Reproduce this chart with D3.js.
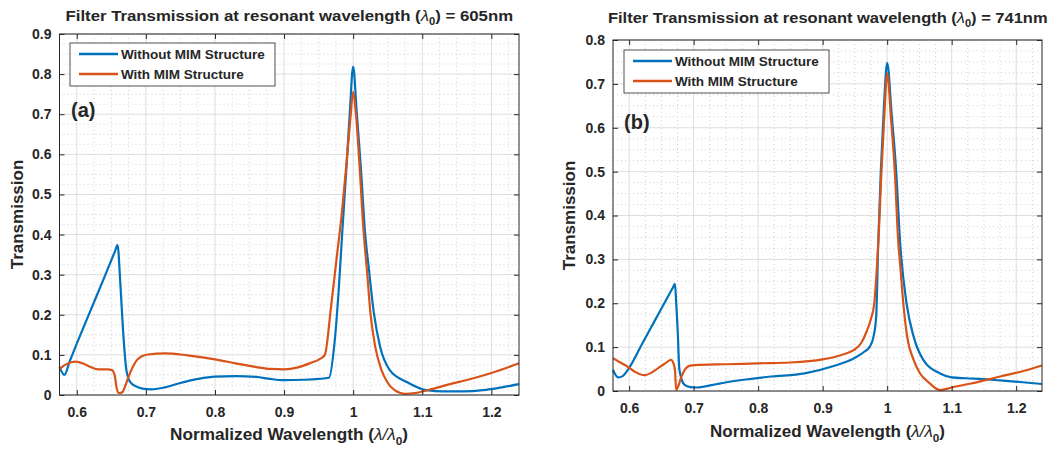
<!DOCTYPE html>
<html>
<head>
<meta charset="utf-8">
<script src="https://cdn.jsdelivr.net/npm/d3@7"></script>
<style>
body { margin: 0; background: #fff; }
svg text { font-family: "Liberation Sans", Arial, sans-serif; font-weight: bold; fill: #262626; }
</style>
</head>
<body>
<svg id="chart" width="1060" height="449"></svg>
<script>
// ---- data ----
var seriesNames = ['Without MIM Structure', 'With MIM Structure'];
var xTicks = [0.6, 0.7, 0.8, 0.9, 1, 1.1, 1.2];
var yTicksA = [0, 0.1, 0.2, 0.3, 0.4, 0.5, 0.6, 0.7, 0.8, 0.9];
var yTicksB = [0, 0.1, 0.2, 0.3, 0.4, 0.5, 0.6, 0.7, 0.8];

// panel (a), lambda0 = 605nm
var wlA_without = [0.575, 0.582, 0.590, 0.600, 0.620, 0.640, 0.655, 0.659, 0.663, 0.667, 0.672, 0.677, 0.685, 0.695, 0.708, 0.725, 0.750, 0.775, 0.800, 0.830, 0.860, 0.880, 0.900, 0.930, 0.950, 0.965, 0.973, 0.979, 0.984, 0.990, 0.995, 1.000, 1.005, 1.011, 1.017, 1.023, 1.030, 1.039, 1.053, 1.077, 1.106, 1.130, 1.160, 1.188, 1.215, 1.240];
var tA_without  = [0.070, 0.050, 0.085, 0.128, 0.211, 0.294, 0.357, 0.374, 0.280, 0.160, 0.060, 0.033, 0.022, 0.016, 0.014, 0.018, 0.030, 0.040, 0.046, 0.047, 0.045, 0.040, 0.037, 0.038, 0.040, 0.043, 0.130, 0.260, 0.400, 0.560, 0.700, 0.819, 0.710, 0.570, 0.410, 0.310, 0.204, 0.120, 0.062, 0.033, 0.012, 0.009, 0.009, 0.012, 0.019, 0.027];
var wlA_with = [0.575, 0.585, 0.598, 0.610, 0.620, 0.631, 0.645, 0.651, 0.655, 0.658, 0.661, 0.666, 0.670, 0.675, 0.687, 0.695, 0.703, 0.728, 0.760, 0.800, 0.830, 0.858, 0.880, 0.900, 0.920, 0.937, 0.952, 0.959, 0.968, 0.976, 0.984, 0.991, 0.996, 1.000, 1.004, 1.009, 1.015, 1.020, 1.025, 1.032, 1.041, 1.049, 1.060, 1.075, 1.090, 1.110, 1.140, 1.170, 1.200, 1.240];
var tA_with  = [0.065, 0.077, 0.083, 0.078, 0.070, 0.064, 0.064, 0.062, 0.048, 0.015, 0.005, 0.007, 0.022, 0.046, 0.087, 0.097, 0.101, 0.104, 0.099, 0.089, 0.079, 0.070, 0.065, 0.064, 0.069, 0.079, 0.090, 0.100, 0.220, 0.340, 0.460, 0.590, 0.690, 0.756, 0.700, 0.578, 0.410, 0.310, 0.204, 0.120, 0.062, 0.033, 0.012, 0.003, 0.005, 0.013, 0.027, 0.040, 0.055, 0.079];

// panel (b), lambda0 = 741nm
var wlB_without = [0.575, 0.583, 0.590, 0.598, 0.620, 0.640, 0.660, 0.668, 0.671, 0.673, 0.675, 0.678, 0.686, 0.695, 0.704, 0.740, 0.774, 0.820, 0.872, 0.917, 0.948, 0.965, 0.973, 0.979, 0.983, 0.986, 0.990, 0.995, 1.000, 1.007, 1.014, 1.020, 1.030, 1.041, 1.056, 1.082, 1.100, 1.123, 1.150, 1.175, 1.210, 1.240];
var tB_without  = [0.048, 0.031, 0.034, 0.048, 0.107, 0.161, 0.215, 0.236, 0.244, 0.200, 0.147, 0.048, 0.014, 0.009, 0.008, 0.017, 0.025, 0.033, 0.040, 0.057, 0.074, 0.090, 0.101, 0.125, 0.170, 0.330, 0.496, 0.650, 0.748, 0.630, 0.500, 0.340, 0.200, 0.124, 0.071, 0.040, 0.031, 0.029, 0.027, 0.024, 0.020, 0.016];
var wlB_with = [0.575, 0.585, 0.598, 0.610, 0.624, 0.635, 0.645, 0.655, 0.665, 0.669, 0.671, 0.673, 0.676, 0.681, 0.688, 0.695, 0.702, 0.750, 0.800, 0.850, 0.900, 0.917, 0.935, 0.948, 0.960, 0.968, 0.975, 0.980, 0.984, 0.987, 0.991, 0.996, 1.000, 1.006, 1.012, 1.017, 1.020, 1.025, 1.031, 1.041, 1.051, 1.064, 1.082, 1.100, 1.130, 1.175, 1.210, 1.240];
var tB_with  = [0.075, 0.066, 0.055, 0.043, 0.036, 0.042, 0.052, 0.062, 0.071, 0.062, 0.048, 0.002, 0.010, 0.033, 0.052, 0.058, 0.059, 0.061, 0.063, 0.065, 0.072, 0.077, 0.085, 0.093, 0.110, 0.135, 0.165, 0.200, 0.280, 0.360, 0.496, 0.640, 0.724, 0.620, 0.496, 0.344, 0.290, 0.200, 0.124, 0.071, 0.040, 0.020, 0.002, 0.008, 0.017, 0.033, 0.045, 0.058];

var colors = ['#0072BD', '#D95319'];

var svg = d3.select('#chart');

function zip(xs, ys) {
  return xs.map(function (d, i) { return [d, ys[i]]; });
}

// stretch a text horizontally around cx so it spans the given width
function fitWidth(sel, cx, width) {
  var w = sel.node().getBBox().width;
  sel.attr('transform', 'translate(' + cx + ',0) scale(' + (width / w) + ',1) translate(' + (-cx) + ',0)');
}

function drawPanel(p) {
  var x = d3.scaleLinear().domain([0.575, 1.24]).range([p.left, p.right]);
  var y = d3.scaleLinear().domain([0, p.ymax]).range([p.bottom, p.top]);
  var g = svg.append('g');
  var cx = (p.left + p.right) / 2;

  // minor grid (dotted)
  var xMinor = d3.range(0.575, 1.2401, 0.025).filter(function (v) { return Math.abs(v * 10 - Math.round(v * 10)) > 0.01; });
  var yMinor = d3.range(0.025, p.ymax, 0.025).filter(function (v) { return Math.abs(v * 10 - Math.round(v * 10)) > 0.01; });
  g.selectAll('.xminor').data(xMinor).enter().append('line')
    .attr('x1', x).attr('x2', x).attr('y1', p.top).attr('y2', p.bottom)
    .attr('stroke', '#c4c4c4').attr('stroke-width', 0.8).attr('stroke-dasharray', '1,3');
  g.selectAll('.yminor').data(yMinor).enter().append('line')
    .attr('x1', p.left).attr('x2', p.right).attr('y1', y).attr('y2', y)
    .attr('stroke', '#c4c4c4').attr('stroke-width', 0.8).attr('stroke-dasharray', '1,3');

  // major grid
  g.selectAll('.xmajor').data(xTicks).enter().append('line')
    .attr('x1', x).attr('x2', x).attr('y1', p.top).attr('y2', p.bottom)
    .attr('stroke', '#dedede').attr('stroke-width', 1);
  g.selectAll('.ymajor').data(p.yTicks).enter().append('line')
    .attr('x1', p.left).attr('x2', p.right).attr('y1', y).attr('y2', y)
    .attr('stroke', '#dedede').attr('stroke-width', 1);

  // curves
  var line = d3.line().x(function (d) { return x(d[0]); }).y(function (d) { return y(d[1]); }).curve(d3.curveMonotoneX);
  p.series.forEach(function (s, i) {
    g.append('path').datum(s).attr('d', line)
      .attr('fill', 'none').attr('stroke', colors[i]).attr('stroke-width', 2.2)
      .attr('stroke-linejoin', 'round');
  });

  // axes (ticks inward, box)
  var fmt = function (d) { return d === 0 || d === 1 ? String(d) : d3.format('.1f')(d); };
  var xAxis = g.append('g').attr('transform', 'translate(0,' + p.bottom + ')')
    .call(d3.axisBottom(x).tickValues(xTicks).tickFormat(fmt).tickSizeInner(-5).tickSizeOuter(0).tickPadding(12));
  var xTop = g.append('g').attr('transform', 'translate(0,' + p.top + ')')
    .call(d3.axisTop(x).tickValues(xTicks).tickFormat('').tickSizeInner(-5).tickSizeOuter(0));
  var yAxis = g.append('g').attr('transform', 'translate(' + p.left + ',0)')
    .call(d3.axisLeft(y).tickValues(p.yTicks).tickFormat(fmt).tickSizeInner(-5).tickSizeOuter(0).tickPadding(8));
  var yRight = g.append('g').attr('transform', 'translate(' + p.right + ',0)')
    .call(d3.axisRight(y).tickValues(p.yTicks).tickFormat('').tickSizeInner(-5).tickSizeOuter(0));
  [xAxis, xTop, yAxis, yRight].forEach(function (a) {
    a.selectAll('.domain').remove();
    a.selectAll('line').attr('stroke', '#262626');
    a.selectAll('text').attr('font-size', 14).attr('font-family', null).attr('fill', '#262626');
  });
  g.append('rect').attr('x', p.left).attr('y', p.top)
    .attr('width', p.right - p.left).attr('height', p.bottom - p.top)
    .attr('fill', 'none').attr('stroke', '#262626').attr('stroke-width', 1);

  // title
  var t = g.append('text').attr('x', cx).attr('y', p.titleY)
    .attr('text-anchor', 'middle').attr('font-size', 15);
  t.append('tspan').text('Filter Transmission at resonant wavelength (');
  t.append('tspan').attr('font-weight', 'normal').attr('font-style', 'italic').text('λ');
  t.append('tspan').attr('dy', 4).attr('font-size', 10).text('0');
  t.append('tspan').attr('dy', -4).text(') = ' + p.lambda0);
  fitWidth(t, p.titleCx, p.titleW);

  // axis labels
  var xl = g.append('text').attr('x', p.xLabelCx).attr('y', p.xLabelY)
    .attr('text-anchor', 'middle').attr('font-size', 16).attr('fill', '#404040');
  xl.append('tspan').text('Normalized Wavelength (');
  xl.append('tspan').attr('font-weight', 'normal').attr('font-style', 'italic').text('λ/λ');
  xl.append('tspan').attr('dy', 5).attr('font-size', 11).text('0');
  xl.append('tspan').attr('dy', -5).text(')');
  fitWidth(xl, p.xLabelCx, p.xLabelW);

  g.append('text').attr('transform', 'translate(' + p.yLabelX + ',' + (p.top + p.bottom) / 2 + ') rotate(-90)')
    .attr('text-anchor', 'middle').attr('font-size', 17).text('Transmission');

  // panel tag
  g.append('text').attr('x', p.tagX).attr('y', p.tagY).attr('font-size', 20).text(p.tag);

  // legend
  var lg = g.append('g');
  lg.append('rect').attr('x', p.legX).attr('y', p.legY).attr('width', 205).attr('height', 43)
    .attr('fill', '#fff').attr('stroke', '#262626').attr('stroke-width', 0.8);
  seriesNames.forEach(function (name, i) {
    var yy = p.legY + 11 + i * 20;
    lg.append('line').attr('x1', p.legX + 9).attr('x2', p.legX + 48).attr('y1', yy).attr('y2', yy)
      .attr('stroke', colors[i]).attr('stroke-width', 2.5);
    lg.append('text').attr('x', p.legX + 51).attr('y', yy + 4.5).attr('font-size', 13.5).text(name);
  });
}

drawPanel({
  left: 59.5, right: 519, top: 34, bottom: 395, ymax: 0.9, yTicks: yTicksA,
  series: [zip(wlA_without, tA_without), zip(wlA_with, tA_with)],
  lambda0: '605nm', titleY: 21, titleCx: 289, titleW: 448,
  xLabelY: 440, xLabelCx: 289, xLabelW: 238, yLabelX: 23,
  tag: '(a)', tagX: 71, tagY: 117, legX: 70, legY: 43
});

drawPanel({
  left: 613, right: 1042, top: 40, bottom: 391, ymax: 0.8, yTicks: yTicksB,
  series: [zip(wlB_without, tB_without), zip(wlB_with, tB_with)],
  lambda0: '741nm', titleY: 23, titleCx: 825, titleW: 440,
  xLabelY: 437, xLabelCx: 827.5, xLabelW: 235, yLabelX: 575,
  tag: '(b)', tagX: 624, tagY: 129, legX: 624, legY: 50
});
</script>
</body>
</html>
